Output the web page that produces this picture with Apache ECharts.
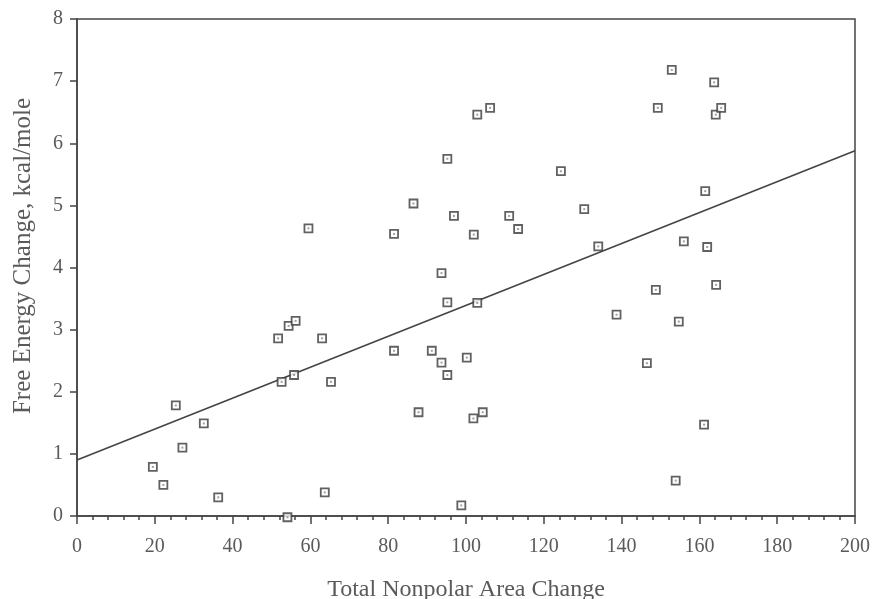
<!DOCTYPE html>
<html>
<head>
<meta charset="utf-8">
<script src="https://cdn.jsdelivr.net/npm/echarts@6/dist/echarts.min.js"></script>
<style>
html,body{margin:0;padding:0;background:#fff;}
#chart{width:874px;height:599px;}
</style>
</head>
<body>
<div id="chart"></div>
<script>
// Total Nonpolar Area Change (x) and Free Energy Change, kcal/mole (y)
var areaChange = [19.5,22.2,25.4,27.1,32.6,36.3,51.7,52.6,54.4,54.1,55.8,56.2,59.5,63.0,63.7,65.3,81.5,81.5,86.5,87.8,91.2,93.7,93.7,95.2,95.2,95.2,96.9,98.8,100.2,101.9,102.0,102.9,102.9,104.3,106.2,111.1,113.4,124.4,130.4,134.0,138.7,146.5,148.8,149.3,152.9,153.9,154.7,156.0,161.2,161.5,162.0,163.8,164.2,164.3,165.6];
var freeEnergy = [0.79,0.50,1.78,1.10,1.49,0.30,2.86,2.16,3.06,-0.02,2.27,3.14,4.63,2.86,0.38,2.16,4.54,2.66,5.03,1.67,2.66,3.91,2.47,5.75,3.44,2.27,4.83,0.17,2.55,1.57,4.53,6.46,3.43,1.67,6.57,4.83,4.62,5.55,4.94,4.34,3.24,2.46,3.64,6.57,7.18,0.57,3.13,4.42,1.47,5.23,4.33,6.98,6.46,3.72,6.57];
// regression line end points
var fitX = [0, 200];
var fitY = [0.9, 5.88];
var xTicks = [0,20,40,60,80,100,120,140,160,180,200];
var yTicks = [0,1,2,3,4,5,6,7,8];

var pts = areaChange.map(function(x,i){return [x, freeEnergy[i]];});
var fit = fitX.map(function(x,i){return [x, fitY[i]];});

var ink = '#444';
var txt = '#5a5a5a';
var font = '"Liberation Serif", "Times New Roman", serif';

var chart = echarts.init(document.getElementById('chart'), null, {renderer:'canvas'});
chart.setOption({
  animation:false,
  backgroundColor:'#fff',
  grid:{left:77,right:19,top:19,bottom:83,containLabel:false,outerBoundsMode:'none',
        show:true,borderColor:ink,borderWidth:1.5,backgroundColor:'transparent'},
  xAxis:{
    type:'value',min:xTicks[0],max:xTicks[xTicks.length-1],interval:20,
    axisLine:{show:true,lineStyle:{color:ink,width:1.5}},
    axisTick:{show:true,length:8,lineStyle:{color:ink,width:1.5}},
    minorTick:{show:true,splitNumber:5,length:4,lineStyle:{color:ink,width:1.5}},
    splitLine:{show:false},
    axisLabel:{color:txt,fontFamily:font,fontSize:20,margin:21},
    name:'Total Nonpolar Area Change',nameLocation:'middle',nameGap:62,
    nameTextStyle:{color:txt,fontFamily:font,fontSize:24}
  },
  yAxis:{
    type:'value',min:yTicks[0],max:yTicks[yTicks.length-1],interval:1,
    axisLine:{show:true,lineStyle:{color:ink,width:1.5}},
    axisTick:{show:true,length:7,lineStyle:{color:ink,width:1.5}},
    splitLine:{show:false},
    axisLabel:{color:txt,fontFamily:font,fontSize:20,margin:14}
  },
  graphic:[{
    type:'text',x:23,y:256,rotation:Math.PI/2,
    style:{text:'Free Energy Change, kcal/mole',fill:txt,font:'25px '+font,textAlign:'center',textVerticalAlign:'middle'}
  }],
  series:[
    {type:'line',data:fit,symbol:'none',lineStyle:{color:ink,width:1.6},z:2},
    {type:'scatter',data:pts,symbol:'rect',symbolSize:8,clip:false,
     itemStyle:{color:'#fff',borderColor:'#3a3a3a',borderWidth:1.8},z:3},
    {type:'scatter',data:pts,symbol:'rect',symbolSize:2,clip:false,
     itemStyle:{color:'#888'},z:4,silent:true}
  ]
});
</script>
</body>
</html>
